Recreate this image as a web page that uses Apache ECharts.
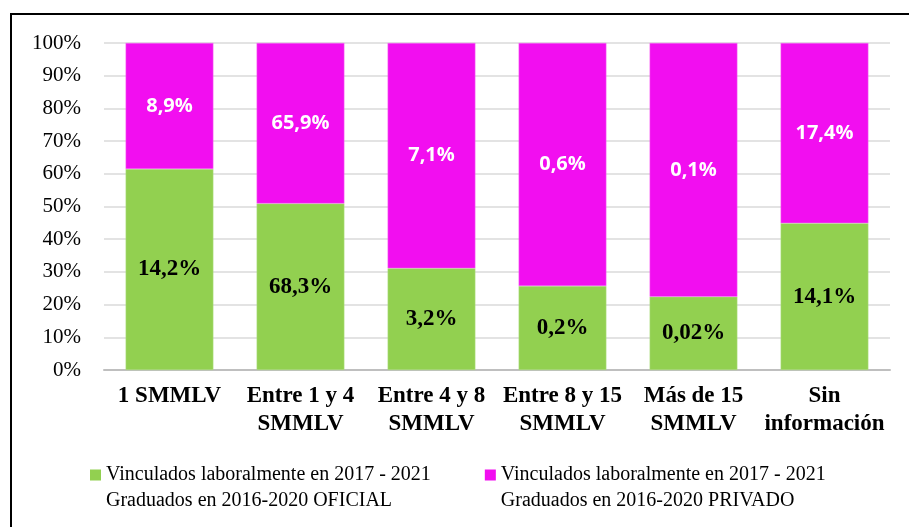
<!DOCTYPE html>
<html>
<head>
<meta charset="utf-8">
<script src="https://cdn.jsdelivr.net/npm/echarts@6/dist/echarts.min.js"></script>
<style>
  html, body { margin: 0; padding: 0; background: #fff; }
  #chart { width: 909px; height: 527px; }
</style>
</head>
<body>
<div id="chart"></div>
<script>
// categorías (eje X)
const categorias = ['1 SMMLV', 'Entre 1 y 4\nSMMLV', 'Entre 4 y 8\nSMMLV', 'Entre 8 y 15\nSMMLV', 'Más de 15\nSMMLV', 'Sin\ninformación']
// altura de cada tramo (% apilado al 100%)
const alturaOficial = [61.5, 50.9, 31.1, 25.7, 22.4, 44.9]
const alturaPrivado = [38.5, 49.1, 68.9, 74.3, 77.6, 55.1]
// etiquetas mostradas dentro de las barras
const etiquetaOficial = ['14,2%', '68,3%', '3,2%', '0,2%', '0,02%', '14,1%']
const etiquetaPrivado = ['8,9%', '65,9%', '7,1%', '0,6%', '0,1%', '17,4%']
// leyenda
const nombreOficial = 'Vinculados laboralmente en 2017 - 2021\nGraduados en 2016-2020 OFICIAL'
const nombrePrivado = 'Vinculados laboralmente en 2017 - 2021\nGraduados en 2016-2020 PRIVADO'
const ticksY = [0, 10, 20, 30, 40, 50, 60, 70, 80, 90, 100]

const serif = '"Liberation Serif", "DejaVu Serif", serif'
// cuadro de la leyenda alineado con la primera línea del texto
const iconoLeyenda = 'path://M0,0h11v11h-11z M0,36.99h0.01v0.01h-0.01z'
const chart = echarts.init(document.getElementById('chart'))

const option = {
  animation: false,
  graphic: [
    { type: 'line', shape: { x1: 10, y1: 14, x2: 909, y2: 14 }, style: { stroke: '#000', lineWidth: 2 } },
    { type: 'line', shape: { x1: 11, y1: 13, x2: 11, y2: 527 }, style: { stroke: '#000', lineWidth: 2 } }
  ],
  grid: { left: 104, right: 19, top: 43, bottom: 157 },
  legend: {
    left: 85,
    top: 457,
    itemGap: 54,
    itemWidth: 11,
    itemHeight: 37,
    icon: iconoLeyenda,
    itemStyle: { borderWidth: 0 },
    textStyle: { fontFamily: serif, fontSize: 20, color: '#000', lineHeight: 26 },
    data: [nombreOficial, nombrePrivado]
  },
  xAxis: {
    type: 'category',
    data: categorias,
    axisLine: { lineStyle: { color: '#bfbfbf', width: 2 } },
    axisTick: { show: false },
    axisLabel: {
      interval: 0,
      margin: 12,
      fontFamily: serif,
      fontWeight: 'bold',
      fontSize: 23,
      lineHeight: 28,
      color: '#000'
    }
  },
  yAxis: {
    type: 'value',
    min: 0,
    max: 100,
    interval: 10,
    axisLine: { show: false },
    axisTick: { show: false },
    splitLine: { lineStyle: { color: '#e3e3e3', width: 2 } },
    axisLabel: {
      margin: 23,
      fontFamily: serif,
      fontSize: 21,
      color: '#000',
      formatter: v => (ticksY.includes(v) ? v + '%' : '')
    }
  },
  series: [
    {
      name: nombreOficial,
      type: 'bar',
      stack: 'total',
      barCategoryGap: '33%',
      data: alturaOficial,
      itemStyle: { color: '#92D050', borderColor: '#b5e08a', borderWidth: 0.5 },
      label: {
        show: true,
        position: 'inside',
        formatter: p => etiquetaOficial[p.dataIndex],
        fontFamily: serif,
        fontWeight: 'bold',
        fontSize: 23,
        color: '#000'
      }
    },
    {
      name: nombrePrivado,
      type: 'bar',
      stack: 'total',
      barCategoryGap: '33%',
      data: alturaPrivado,
      itemStyle: { color: '#F20EF0', borderColor: '#f570f3', borderWidth: 0.5 },
      label: {
        show: true,
        position: 'inside',
        formatter: p => etiquetaPrivado[p.dataIndex],
        fontFamily: '"Open Sans", "Noto Sans", sans-serif',
        fontWeight: 'bold',
        fontSize: 20,
        color: '#fff'
      }
    }
  ]
}

chart.setOption(option)
window.addEventListener('resize', () => chart.resize())
</script>
</body>
</html>
